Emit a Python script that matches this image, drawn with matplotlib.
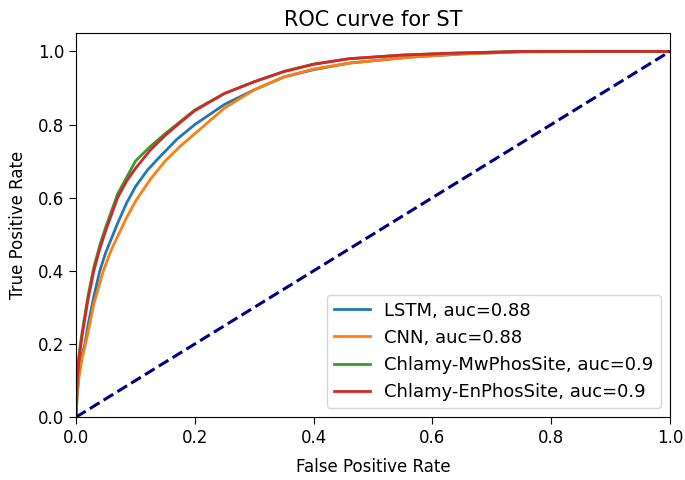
import matplotlib
matplotlib.use("Agg")
import matplotlib.pyplot as plt

title = "ROC curve for ST"

lstm_fpr = [0, 0.002, 0.005, 0.01, 0.015, 0.02, 0.03, 0.04, 0.05, 0.07, 0.085, 0.1, 0.12, 0.14, 0.17, 0.2, 0.25, 0.3, 0.35, 0.4, 0.46, 0.56, 0.65, 0.75, 1.0]
lstm_tpr = [0, 0.07, 0.12, 0.17, 0.20, 0.25, 0.33, 0.40, 0.45, 0.53, 0.585, 0.63, 0.675, 0.71, 0.76, 0.80, 0.855, 0.895, 0.93, 0.95, 0.968, 0.984, 0.993, 0.999, 1.0]

cnn_fpr = [0, 0.002, 0.005, 0.01, 0.016, 0.02, 0.03, 0.046, 0.06, 0.085, 0.1, 0.125, 0.15, 0.175, 0.2, 0.25, 0.3, 0.35, 0.4, 0.46, 0.56, 0.65, 0.75, 1.0]
cnn_tpr = [0, 0.06, 0.11, 0.16, 0.20, 0.23, 0.31, 0.40, 0.46, 0.545, 0.59, 0.65, 0.70, 0.74, 0.775, 0.845, 0.895, 0.93, 0.952, 0.968, 0.984, 0.993, 0.999, 1.0]

mw_fpr = [0, 0.002, 0.005, 0.01, 0.02, 0.03, 0.04, 0.05, 0.07, 0.09, 0.1, 0.125, 0.15, 0.2, 0.25, 0.3, 0.35, 0.4, 0.46, 0.55, 0.63, 0.75, 1.0]
mw_tpr = [0, 0.11, 0.17, 0.23, 0.33, 0.41, 0.47, 0.52, 0.61, 0.67, 0.70, 0.74, 0.775, 0.84, 0.885, 0.917, 0.945, 0.965, 0.98, 0.99, 0.995, 1.0, 1.0]

en_fpr = [0, 0.002, 0.005, 0.01, 0.02, 0.03, 0.04, 0.05, 0.07, 0.085, 0.1, 0.125, 0.15, 0.175, 0.2, 0.25, 0.3, 0.35, 0.4, 0.46, 0.55, 0.63, 0.75, 1.0]
en_tpr = [0, 0.10, 0.16, 0.22, 0.32, 0.40, 0.46, 0.51, 0.60, 0.645, 0.68, 0.73, 0.77, 0.805, 0.838, 0.885, 0.917, 0.945, 0.965, 0.98, 0.99, 0.995, 1.0, 1.0]

labels = ["LSTM, auc=0.88", "CNN, auc=0.88", "Chlamy-MwPhosSite, auc=0.9", "Chlamy-EnPhosSite, auc=0.9"]
colors = ["#1f77b4", "#ff7f0e", "#2ca02c", "#d62728"]

diag = [0, 1]

fig = plt.figure(figsize=(6.85, 4.8), dpi=100)
ax = fig.add_axes([0.111, 0.131, 0.867, 0.80])

series = [(lstm_fpr, lstm_tpr), (cnn_fpr, cnn_tpr), (mw_fpr, mw_tpr), (en_fpr, en_tpr)]
for (x, y), lab, c in zip(series, labels, colors):
    ax.plot(x, y, color=c, lw=2, label=lab)
ax.plot(diag, diag, color="navy", lw=2.2, linestyle="--")

ax.set_xlim(0, 1.0)
ax.set_ylim(0, 1.05)
ax.set_xticks([0, 0.2, 0.4, 0.6, 0.8, 1.0])
ax.set_yticks([0, 0.2, 0.4, 0.6, 0.8, 1.0])
ax.tick_params(labelsize=12, length=5)
ax.set_xlabel("False Positive Rate", fontsize=12, labelpad=8)
ax.set_ylabel("True Positive Rate", fontsize=12, labelpad=8)
ax.set_title(title, fontsize=15, pad=5)
ax.legend(loc="lower right", fontsize=13, borderaxespad=0.5)

fig.savefig("out.png", dpi=100)
